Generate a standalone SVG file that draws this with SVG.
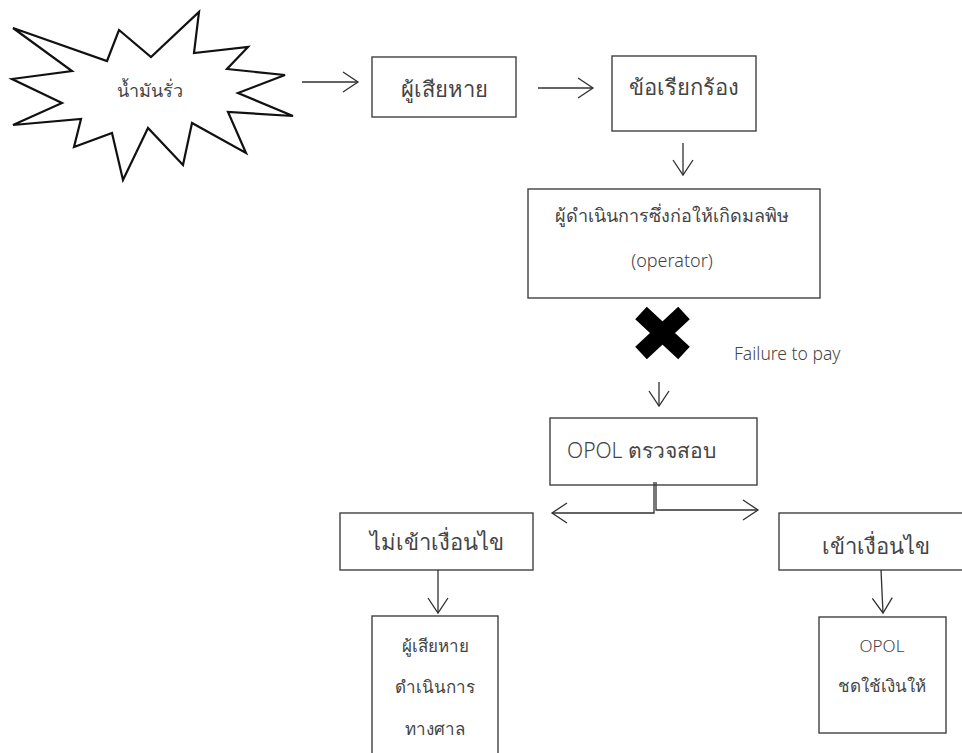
<svg xmlns="http://www.w3.org/2000/svg" width="962" height="753" viewBox="0 0 962 753">
<style>
.box{fill:#fff;stroke:#404040;stroke-width:1.4}
.t{font-family:"Noto Sans","DejaVu Sans","Liberation Sans",sans-serif;font-weight:300;fill:#444;text-anchor:middle}
.c{fill:none;stroke:#303030;stroke-width:1.3}
</style>
<defs>
<marker id="ah" markerUnits="userSpaceOnUse" markerWidth="18" markerHeight="24" viewBox="0 0 18 24" refX="16" refY="12" orient="auto">
<path d="M1,2 L16,12 L1,22" fill="none" stroke="#303030" stroke-width="1.3"/>
</marker>
</defs>
<rect width="962" height="753" fill="#fff"/>
<g id="oil-spill">
<polygon points="13,28 107,61 119,30 151,57 199,12 194,53 248,47 227,69 285,75 238,93 293,116 228,112 246,153 192,123 183,165 148,128 123,180 112,133 74,147 81,119 13,125 62,103 12,79 72,71" fill="#fff" stroke="#111" stroke-width="2.2" stroke-linejoin="miter"/>
<text class="t" x="150" y="97" font-size="18">น้ำมันรั่ว</text>
</g>
<g id="victim">
<rect class="box" x="372" y="57" width="144" height="60"/>
<text class="t" x="444" y="97" font-size="22">ผู้เสียหาย</text>
</g>
<g id="claim">
<rect class="box" x="612" y="56" width="144" height="75"/>
<text class="t" x="684" y="95" font-size="22">ข้อเรียกร้อง</text>
</g>
<g id="operator">
<rect class="box" x="528" y="189" width="292" height="109"/>
<text class="t" x="672" y="222" font-size="18">ผู้ดำเนินการซึ่งก่อให้เกิดมลพิษ</text>
<text class="t" x="672" y="267" font-size="18">(operator)</text>
</g>
<g id="failure">
<path d="M641,313 L684,353 M684,313 L641,353" stroke="#000" stroke-width="17" fill="none"/>
<text class="t" x="734" y="360" font-size="17.5" style="text-anchor:start">Failure to pay</text>
</g>
<g id="opol-check">
<rect class="box" x="550" y="418" width="207" height="67"/>
<text class="t" x="567" y="458" font-size="21" style="text-anchor:start">OPOL ตรวจสอบ</text>
</g>
<g id="not-eligible">
<rect class="box" x="340" y="513" width="193" height="57"/>
<text class="t" x="437" y="550" font-size="22">ไม่เข้าเงื่อนไข</text>
</g>
<g id="eligible">
<rect class="box" x="779" y="513" width="190" height="57"/>
<text class="t" x="876" y="554" font-size="22">เข้าเงื่อนไข</text>
</g>
<g id="court">
<rect class="box" x="372" y="616" width="126" height="150"/>
<text class="t" x="435" y="652" font-size="17">ผู้เสียหาย</text>
<text class="t" x="435" y="693" font-size="17">ดำเนินการ</text>
<text class="t" x="435" y="735" font-size="17">ทางศาล</text>
</g>
<g id="opol-pay">
<rect class="box" x="819" y="617" width="127" height="116"/>
<text class="t" x="882" y="652" font-size="17">OPOL</text>
<text class="t" x="882" y="692" font-size="17">ชดใช้เงินให้</text>
</g>
<g id="connectors">
<path class="c" d="M302,82 L358,82" marker-end="url(#ah)"/>
<path class="c" d="M538,88 L593,88" marker-end="url(#ah)"/>
<path class="c" d="M683,143 L683,175" marker-end="url(#ah)"/>
<path class="c" d="M659,382 L659,406" marker-end="url(#ah)"/>
<path class="c" d="M654,482 L654,513 L552,513" marker-end="url(#ah)"/>
<path class="c" d="M656,482 L656,510 L758,510" marker-end="url(#ah)"/>
<path class="c" d="M438,570 L438,613" marker-end="url(#ah)"/>
<path class="c" d="M881,570 L883,613" marker-end="url(#ah)"/>
</g>
</svg>
